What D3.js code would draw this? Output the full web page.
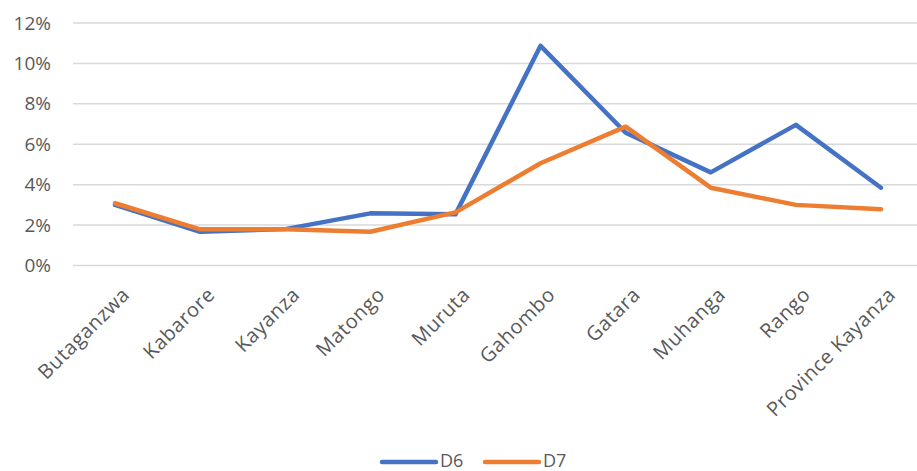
<!DOCTYPE html>
<html><head><meta charset="utf-8">
<script src="https://cdn.jsdelivr.net/npm/d3@7"></script>
<style>
html,body{margin:0;padding:0;background:#fff;}
svg{display:block;font-family:"Open Sans",sans-serif;}
</style></head>
<body><svg id="c" width="917" height="471"></svg>
<script>
const categories = ["Butaganzwa","Kabarore","Kayanza","Matongo","Muruta","Gahombo","Gatara","Muhanga","Rango","Province Kayanza"];
const d6 = [3.0,1.67,1.8,2.58,2.53,10.87,6.57,4.61,6.96,3.85];
const d7 = [3.08,1.79,1.79,1.67,2.63,5.06,6.87,3.85,3.0,2.78];
const yTicks = [0,2,4,6,8,10,12];
const seriesNames = ["D6","D7"];
const colors = ["#4472C4","#ED7D31"];

const svg = d3.select("#c");
const x = d3.scalePoint().domain(categories).range([115,881]);
const y = d3.scaleLinear().domain([0,12]).range([265.5,23]);

// gridlines
svg.append("g").selectAll("line").data(yTicks).join("line")
  .attr("x1",73).attr("x2",917)
  .attr("y1",d=>y(d)).attr("y2",d=>y(d))
  .attr("stroke","#d9d9d9").attr("stroke-width",1.5);

// y labels
svg.append("g").selectAll("text").data(yTicks).join("text")
  .attr("x",51).attr("y",d=>y(d)).attr("dy","0.35em")
  .attr("text-anchor","end").attr("fill","#595959").attr("font-size",19)
  .text(d=>d+"%");

// x labels
svg.append("g").selectAll("text").data(categories).join("text")
  .attr("transform",d=>`translate(${x(d)+6},${286}) rotate(-45)`)
  .attr("text-anchor","end").attr("dy","0.7em")
  .attr("fill","#595959").attr("font-size",20).attr("letter-spacing",0.6)
  .text(d=>d);

const line = d3.line().x((d,i)=>x(categories[i])).y(d=>y(d));
[d6,d7].forEach((s,k)=>{
  svg.append("path").datum(s).attr("d",line)
    .attr("fill","none").attr("stroke",colors[k]).attr("stroke-width",4.5)
    .attr("stroke-linejoin","round").attr("stroke-linecap","round");
});

// legend
const lg = svg.append("g");
const lx = [382,485];
seriesNames.forEach((n,k)=>{
  lg.append("line").attr("x1",lx[k]).attr("x2",lx[k]+54).attr("y1",462).attr("y2",462)
    .attr("stroke",colors[k]).attr("stroke-width",4.5).attr("stroke-linecap","round");
  lg.append("text").attr("x",lx[k]+58).attr("y",461).attr("dy","0.35em")
    .attr("fill","#595959").attr("font-size",18).text(n);
});
</script></body></html>
